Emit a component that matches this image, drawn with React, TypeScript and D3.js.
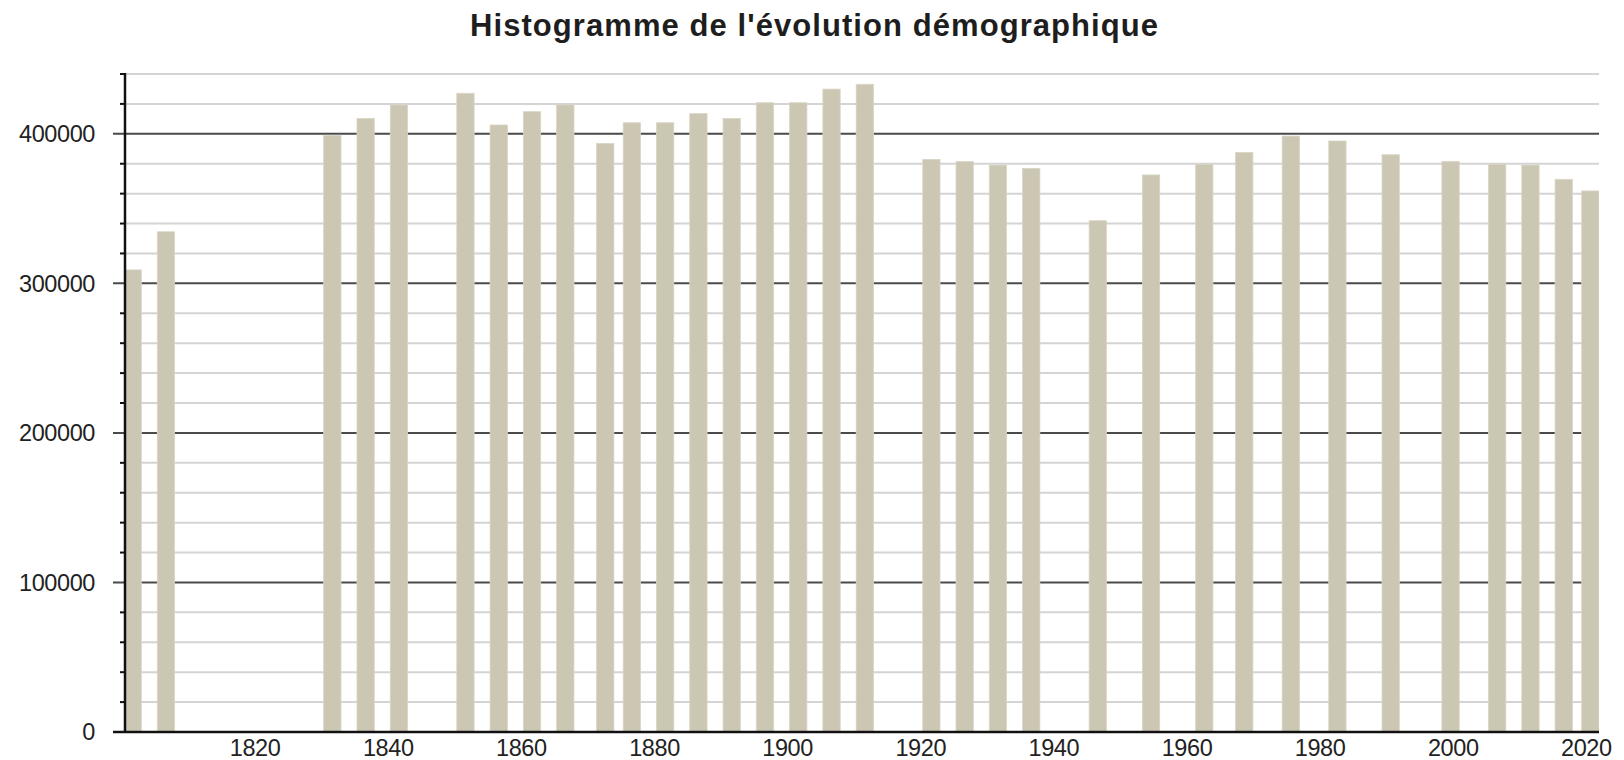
import React, { useRef, useEffect } from 'react';
import * as d3 from 'd3';

// census years and population
const years = [
  1801, 1806, 1831, 1836, 1841, 1851, 1856, 1861, 1866, 1872, 1876, 1881,
  1886, 1891, 1896, 1901, 1906, 1911, 1921, 1926, 1931, 1936, 1946, 1954,
  1962, 1968, 1975, 1982, 1990, 1999, 2006, 2011, 2016, 2020,
];
const population = [
  309000, 334500, 399000, 410300, 419300, 427100, 405900, 414800, 419300, 393600, 407400, 407400,
  413500, 410300, 420800, 420800, 429900, 433100, 382900, 381400, 379100, 376900, 341900, 372500,
  379600, 387600, 398500, 395200, 386000, 381600, 379600, 379100, 369600, 361800,
];
const yLabels = [0, 100000, 200000, 300000, 400000];
const xLabels = [1820, 1840, 1860, 1880, 1900, 1920, 1940, 1960, 1980, 2000, 2020];
const title = "Histogramme de l'évolution démographique";

const App = () => {
  const svgRef = useRef<SVGSVGElement>(null);

  useEffect(() => {
    if (!svgRef.current) return;
    const svg = d3.select(svgRef.current);
    svg.selectAll('*').remove();

    const width = 1624;
    const height = 760;
    const left = 126;
    const right = 1599;
    const top = 74;
    const bottom = 732;
    const font = "'Liberation Sans', Arial, Helvetica, sans-serif";

    svg.attr('width', width).attr('height', height).style('background', '#fff');

    const x = d3.scaleLinear().domain([1800, 2021.3]).range([left, right]);
    const y = d3.scaleLinear().domain([0, 440000]).range([bottom, top]);
    const barW = x(1802.6) - x(1800);

    // title
    svg.append('text')
      .attr('x', 814)
      .attr('y', 36)
      .attr('text-anchor', 'middle')
      .attr('font-family', font)
      .attr('font-weight', 'bold')
      .attr('font-size', 31)
      .attr('fill', '#1e1e1e')
      .attr('textLength', 688)
      .attr('lengthAdjust', 'spacing')
      .text(title);

    // grid
    const minor = d3.range(20000, 440001, 20000).filter(v => v % 100000 !== 0);
    const major = yLabels.filter(v => v > 0);

    svg.append('g').selectAll('line')
      .data(minor)
      .join('line')
      .attr('x1', left).attr('x2', right)
      .attr('y1', d => y(d)).attr('y2', d => y(d))
      .attr('stroke', '#d4d4d4')
      .attr('stroke-width', 2);

    svg.append('g').selectAll('line')
      .data(major)
      .join('line')
      .attr('x1', left - 13).attr('x2', right)
      .attr('y1', d => y(d)).attr('y2', d => y(d))
      .attr('stroke', '#4a4a4a')
      .attr('stroke-width', 2);

    // bars
    svg.append('clipPath').attr('id', 'plot-clip')
      .append('rect')
      .attr('x', left).attr('y', 0)
      .attr('width', right - left).attr('height', height);

    svg.append('g')
      .attr('clip-path', 'url(#plot-clip)')
      .selectAll('rect')
      .data(years)
      .join('rect')
      .attr('x', d => x(d) - barW / 2)
      .attr('y', (d, i) => y(population[i]))
      .attr('width', barW)
      .attr('height', (d, i) => bottom - y(population[i]))
      .attr('fill', '#ccc7b3')
      .attr('stroke', '#d9d5c6')
      .attr('stroke-width', 0.8);

    // minor ticks left of axis
    svg.append('g').selectAll('line')
      .data(minor)
      .join('line')
      .attr('x1', left - 6).attr('x2', left)
      .attr('y1', d => y(d)).attr('y2', d => y(d))
      .attr('stroke', '#111')
      .attr('stroke-width', 2);

    // axes
    svg.append('line')
      .attr('x1', left - 1).attr('x2', left - 1)
      .attr('y1', top - 1).attr('y2', bottom + 1)
      .attr('stroke', '#111')
      .attr('stroke-width', 2.5);

    svg.append('line')
      .attr('x1', left - 13).attr('x2', right)
      .attr('y1', bottom).attr('y2', bottom)
      .attr('stroke', '#111')
      .attr('stroke-width', 2.5);

    // labels
    svg.append('g').selectAll('text')
      .data(yLabels)
      .join('text')
      .attr('x', 95)
      .attr('y', d => y(d))
      .attr('dy', '0.36em')
      .attr('text-anchor', 'end')
      .attr('font-family', font)
      .attr('font-size', 23.5)
      .attr('letter-spacing', -0.4)
      .attr('fill', '#222')
      .text(d => String(d));

    svg.append('g').selectAll('text')
      .data(xLabels)
      .join('text')
      .attr('x', d => x(d) - 4)
      .attr('y', 756)
      .attr('text-anchor', 'middle')
      .attr('font-family', font)
      .attr('font-size', 23.5)
      .attr('letter-spacing', -0.4)
      .attr('fill', '#222')
      .text(d => String(d));
  }, []);

  return (
    <div style={{ position: 'absolute', left: 0, top: 0 }}>
      <svg ref={svgRef}></svg>
    </div>
  );
};

export default App;
